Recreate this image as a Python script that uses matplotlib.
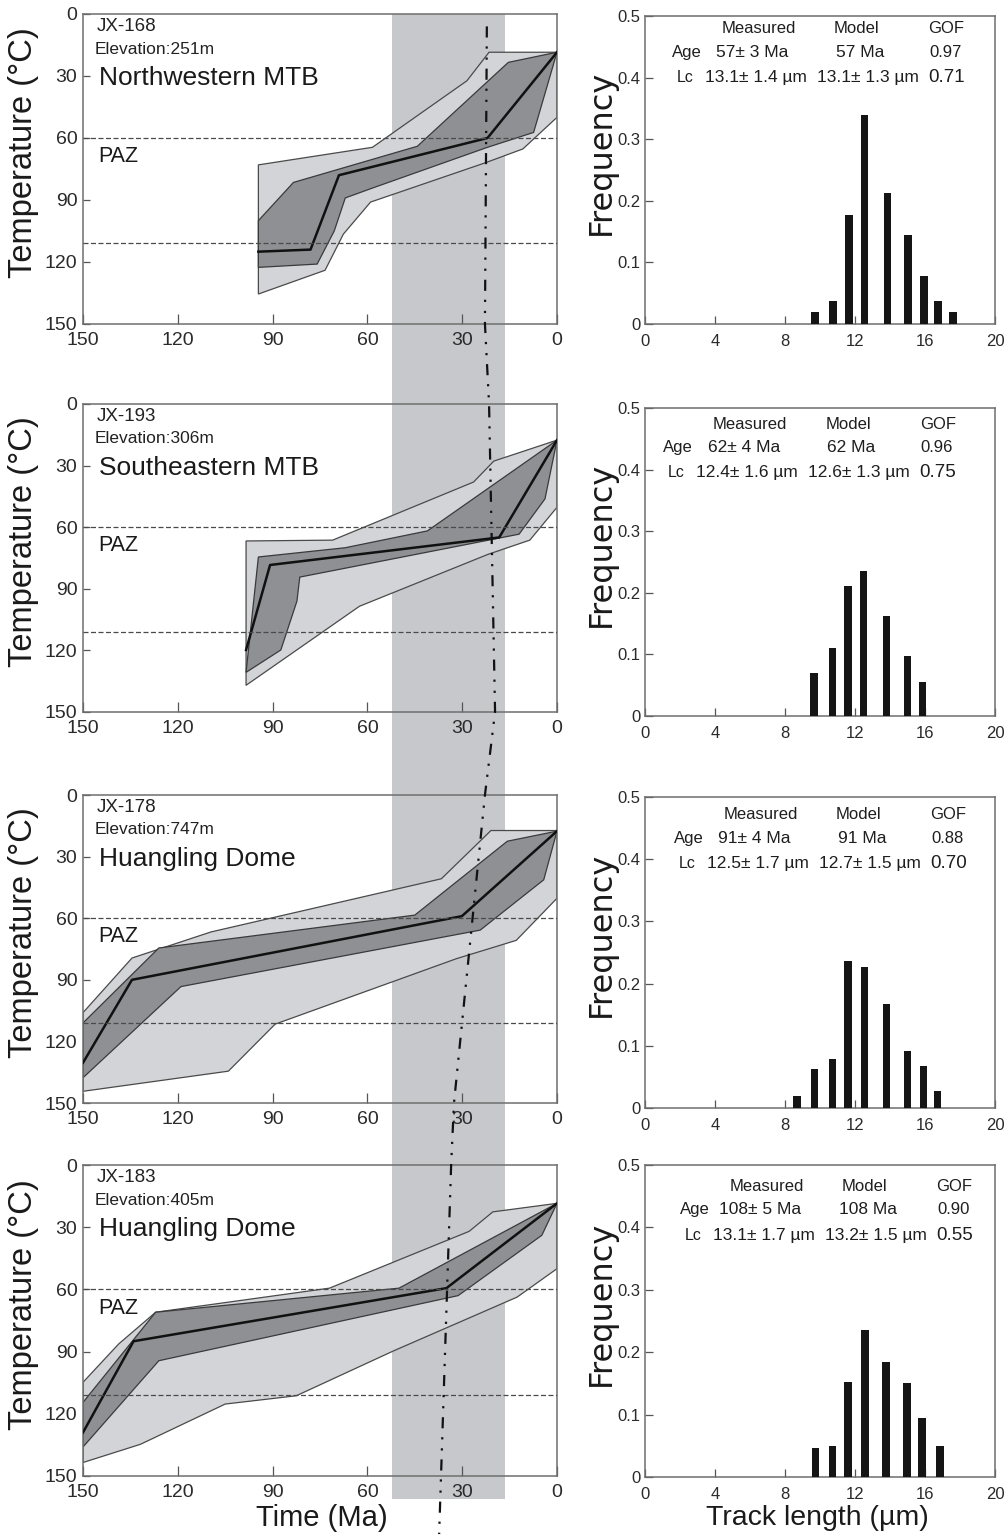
import numpy as np
import matplotlib.pyplot as plt
from matplotlib.patches import Rectangle, Polygon
from matplotlib.lines import Line2D

plt.rcParams['font.family'] = ['Liberation Sans', 'DejaVu Sans']

# ---- data ----
samples = ['JX-168', 'JX-193', 'JX-178', 'JX-183']
elevations = ['251m', '306m', '747m', '405m']
regions = ['Northwestern MTB', 'Southeastern MTB', 'Huangling Dome', 'Huangling Dome']

# best-fit thermal paths: (age Ma, temperature C)
best_age = [[94.5, 78, 69, 22, 0],
            [98.4, 90.8, 18.3, 0],
            [150, 134.5, 30.1, 0],
            [150, 134, 35, 0]]
best_temp = [[115, 114, 78, 60, 18.5],
             [119.8, 78.4, 65, 17.6],
             [130.4, 90, 59, 17.6],
             [129, 85, 59.4, 18.5]]

# good-fit envelope (dark), closed outline
good_age = [[94.5, 83.4, 44.2, 15.4, 0, 7.4, 22, 58, 67, 70.5, 75.9, 94.5],
            [98.4, 94.5, 67, 41, 0, 3.8, 12, 81.4, 82.3, 87.4],
            [150, 126, 45, 15.7, 0, 4.2, 24.3, 119, 150],
            [150, 127, 50, 0, 4.8, 31.3, 126, 150]]
good_temp = [[100, 81.5, 64, 23.4, 18.5, 57.3, 64.5, 84, 89, 105, 121, 122.6],
             [130.7, 74.5, 70, 61.8, 17.6, 46.2, 63.4, 84.3, 96, 119.8],
             [111, 74.5, 58.5, 22.5, 17.6, 41.3, 65.8, 93.3, 137.7],
             [114.5, 71, 59.4, 18.5, 33.9, 63, 94.4, 136]]

# acceptable-fit envelope (light), closed outline
acc_age = [[94.5, 58.4, 28.5, 21.5, 0, 0, 10.8, 22.7, 59, 67.6, 73.4, 94.5],
           [98.4, 71, 26.4, 20, 0, 0, 8.6, 21.8, 62.5, 98.4],
           [150, 134.5, 109.5, 36.6, 20.9, 0, 0, 12.9, 31.8, 89.2, 104, 150],
           [150, 138.7, 127, 72, 27.8, 20.3, 0, 0, 12.6, 51.5, 82.5, 105, 131.8, 150]]
acc_temp = [[73, 64.5, 32.3, 18.5, 18.5, 50, 65.3, 72, 91, 106.5, 124, 135.5],
            [66.7, 66.3, 38, 27.8, 17.6, 50.3, 66.3, 73.2, 98.5, 137],
            [106, 79.4, 66.7, 40.8, 17.3, 17.3, 50.3, 70.8, 79.7, 111.6, 134.5, 144.3],
            [104.8, 86.3, 71, 59.4, 32, 22.6, 18.5, 50, 63.7, 89.5, 111.3, 115.3, 134.7, 143.5]]

paz_limits = [60, 111]

# track length histograms
len_bins = [[9.72, 10.74, 11.65, 12.55, 13.85, 15.03, 15.95, 16.75, 17.6],
            [9.65, 10.7, 11.6, 12.5, 13.8, 15.0, 15.85],
            [8.68, 9.68, 10.73, 11.6, 12.56, 13.8, 15.0, 15.9, 16.7],
            [9.74, 10.72, 11.6, 12.57, 13.77, 14.97, 15.83, 16.86]]
len_freq = [[0.019, 0.038, 0.177, 0.339, 0.212, 0.145, 0.078, 0.037, 0.019],
            [0.070, 0.110, 0.211, 0.236, 0.163, 0.097, 0.055],
            [0.020, 0.063, 0.078, 0.237, 0.227, 0.168, 0.092, 0.067, 0.027],
            [0.047, 0.049, 0.152, 0.235, 0.184, 0.150, 0.094, 0.050]]

age_measured = ['57\u00b1 3 Ma', '62\u00b1 4 Ma', '91\u00b1 4 Ma', '108\u00b1 5 Ma']
age_model = ['57 Ma', '62 Ma', '91 Ma', '108 Ma']
age_gof = ['0.97', '0.96', '0.88', '0.90']
lc_measured = ['13.1\u00b1 1.4 \u00b5m', '12.4\u00b1 1.6 \u00b5m', '12.5\u00b1 1.7 \u00b5m', '13.1\u00b1 1.7 \u00b5m']
lc_model = ['13.1\u00b1 1.3 \u00b5m', '12.6\u00b1 1.3 \u00b5m', '12.7\u00b1 1.5 \u00b5m', '13.2\u00b1 1.5 \u00b5m']
lc_gof = ['0.71', '0.75', '0.70', '0.55']

# cooling event band (Ma) and the dash-dot correlation line (panel, age, temp)
band_ages = [52.2, 16.5]
trend_pts = [(0, 22.2, 6), (0, 22.8, 150), (1, 21.5, 0), (1, 19.6, 150),
             (2, 22.8, 0), (2, 32.6, 150), (3, 33.5, 0), (3, 37.3, 178)]

# ---- layout (pixels) ----
W, H = 1007, 1537
left_boxes = [(83, 14, 557, 324), (83, 404, 557, 712), (83, 795, 557, 1103), (83, 1165, 557, 1476)]
right_boxes = [(645, 16, 995, 324), (645, 408, 995, 716), (645, 797, 995, 1108), (645, 1165, 995, 1477)]
table_dx = [0, -0.5, 0.1, 0.45]
table_dy = [0.005, 0.0, -0.002, -0.008]

fig = plt.figure(figsize=(W / 100, H / 100), dpi=100)


def add_box(b):
    x0, y0, x1, y1 = b
    return fig.add_axes([x0 / W, 1 - y1 / H, (x1 - x0) / W, (y1 - y0) / H])


frame_col = '#6e6e6e'
tick_col = '#2a2a2a'
left_axes = []
for i in range(4):
    ax = add_box(left_boxes[i])
    ax.set_facecolor('none')
    ax.set_xlim(150, 0)
    ax.set_ylim(150, 0)
    ax.add_patch(Polygon(np.column_stack([acc_age[i], acc_temp[i]]), closed=True,
                         facecolor='#d3d4d7', edgecolor='#4a4a4a', lw=0.9, zorder=1))
    ax.add_patch(Polygon(np.column_stack([good_age[i], good_temp[i]]), closed=True,
                         facecolor='#8f9094', edgecolor='#3a3a3a', lw=0.9, zorder=2))
    ax.plot(best_age[i], best_temp[i], color='#111111', lw=1.8, zorder=3)
    for t in paz_limits:
        ax.axhline(t, color='#4a4a4a', lw=0.9, ls=(0, (4, 2)), zorder=4)
    ax.set_xticks([150, 120, 90, 60, 30, 0])
    ax.set_yticks([0, 30, 60, 90, 120, 150])
    ax.tick_params(direction='in', length=7, width=0.9, color='#555555',
                   labelsize=14, labelcolor=tick_col)
    ax.tick_params(axis='x', pad=6)
    ax.tick_params(axis='y', pad=4, length=5)
    for s in ax.spines.values():
        s.set_color(frame_col)
        s.set_linewidth(1.1)
    ax.text(145.6, 6, samples[i], fontsize=13.5, color='#222222', va='center')
    ax.text(146.3, 17, 'Elevation:' + elevations[i], fontsize=12.5, color='#222222', va='center')
    ax.text(145.0, 31, regions[i], fontsize=19, color='#1a1a1a', va='center')
    ax.text(145.3, 69, 'PAZ', fontsize=15.5, color='#1a1a1a', va='center')
    y_mid = (left_boxes[i][1] + left_boxes[i][3]) / 2 - 16
    fig.text(24 / W, 1 - y_mid / H, 'Temperature (\u00b0C)', rotation=90,
             ha='center', va='center', fontsize=23.5, color='#1a1a1a')
    left_axes.append(ax)

for i in range(4):
    ax = add_box(right_boxes[i])
    ax.bar(len_bins[i], len_freq[i], width=0.42, color='#151515', zorder=3)
    ax.set_xlim(0, 20)
    ax.set_ylim(0, 0.5)
    ax.set_xticks([0, 4, 8, 12, 16, 20])
    ax.set_yticks([0, 0.1, 0.2, 0.3, 0.4, 0.5])
    ax.set_yticklabels(['0', '0.1', '0.2', '0.3', '0.4', '0.5'])
    ax.tick_params(direction='in', length=6, width=0.9, color='#555555',
                   labelsize=12, labelcolor=tick_col)
    ax.tick_params(axis='x', pad=7)
    ax.tick_params(axis='y', pad=3)
    for s in ax.spines.values():
        s.set_color(frame_col)
        s.set_linewidth(1.1)
    dx, dy = table_dx[i], table_dy[i]
    rows = [0.474 + dy, 0.436 + dy, 0.395 + dy]
    kw = dict(ha='center', va='center', color='#1e1e1e')
    ax.text(6.5 + dx, rows[0], 'Measured', fontsize=12, **kw)
    ax.text(12.1 + dx, rows[0], 'Model', fontsize=12, **kw)
    ax.text(16.2 + dx, rows[0], 'GOF', fontsize=12, ha='left', va='center', color='#1e1e1e')
    ax.text(2.4 + dx, rows[1], 'Age', fontsize=12, **kw)
    ax.text(6.15 + dx, rows[1], age_measured[i], fontsize=12.5, **kw)
    ax.text(12.3 + dx, rows[1], age_model[i], fontsize=12.5, **kw)
    ax.text(16.25 + dx, rows[1], age_gof[i], fontsize=12, ha='left', va='center', color='#1e1e1e')
    ax.text(2.3 + dx, rows[2], 'Lc', fontsize=11.5, **kw)
    ax.text(6.35 + dx, rows[2], lc_measured[i], fontsize=12.5, **kw)
    ax.text(12.75 + dx, rows[2], lc_model[i], fontsize=12.5, **kw)
    ax.text(16.2 + dx, rows[2], lc_gof[i], fontsize=13.5, ha='left', va='center', color='#1e1e1e')
    y_mid = (right_boxes[i][1] + right_boxes[i][3]) / 2 - 18
    fig.text(601 / W, 1 - y_mid / H, 'Frequency', rotation=90, ha='center', va='center',
             fontsize=23, family=['DejaVu Sans'], color='#1a1a1a')

fig.text(322 / W, 1 - 1518 / H, 'Time (Ma)', ha='center', va='center', fontsize=21, color='#1a1a1a')
fig.text(817 / W, 1 - 1518 / H, 'Track length (\u00b5m)', ha='center', va='center', fontsize=20.5,
         color='#1a1a1a')

# figure-level band and correlation line spanning all temperature panels
to_fig = fig.transFigure.inverted()
x0, y0 = to_fig.transform(left_axes[0].transData.transform((band_ages[0], 0)))
x1, _ = to_fig.transform(left_axes[0].transData.transform((band_ages[1], 0)))
_, y1 = to_fig.transform(left_axes[3].transData.transform((band_ages[0], 161)))
fig.patches.append(Rectangle((x0, y1), x1 - x0, y0 - y1, transform=fig.transFigure,
                             facecolor='#c7c8cc', edgecolor='none', zorder=-1))

pts = np.array([to_fig.transform(left_axes[k].transData.transform((a, t))) for k, a, t in trend_pts])
fig.lines.append(Line2D(pts[:, 0], pts[:, 1], transform=fig.transFigure, color='#111111',
                        lw=1.6, ls=(0, (5, 4, 1, 4, 1, 4)), zorder=5))

fig.savefig('out.png', dpi=100)
